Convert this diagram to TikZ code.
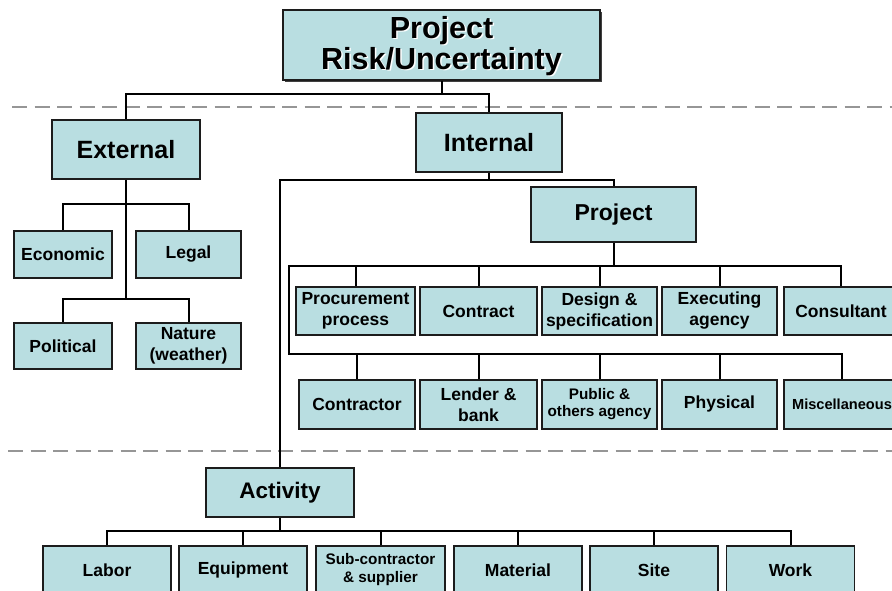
\documentclass[tikz,border=0pt]{standalone}
\usepackage{fontspec}
\setmainfont{Liberation Sans}
\usetikzlibrary{shadows,calc}

\definecolor{boxfill}{RGB}{185,222,225}
\definecolor{boxline}{RGB}{28,28,28}
\definecolor{sepgray}{RGB}{150,150,150}

\begin{document}
\begin{tikzpicture}[x=1pt, y=-1pt,
        riskbox/.style={draw=boxline, fill=boxfill, line width=1.9pt, align=center, inner sep=0pt},
        hugetext/.style={font=\bfseries\fontsize{30.5}{31}\selectfont, align=center},
        bigtext/.style={font=\bfseries\fontsize{25}{28}\selectfont},
        midtext/.style={font=\bfseries\fontsize{23}{26}\selectfont},
        rowtext/.style={font=\bfseries\fontsize{17.5}{21}\selectfont},
        smalltext/.style={font=\bfseries\fontsize{15.3}{17}\selectfont},
        link/.style={line width=2pt, black},
        sepline/.style={draw=sepgray, line width=1.6pt, dash pattern=on 15pt off 7.5pt}]

        \def\rowh{48.5pt}
        \def\wide{116pt}

        \useasboundingbox (0,0) rectangle (892,590);
        \clip (0,0) rectangle (892,590);

        \draw [sepline] (12,106.7) -- (892,106.7);
        \draw [sepline] (8,451) -- (892,451);

        % top level
        \node [riskbox, minimum width=317pt, minimum height=70pt,
               drop shadow={shadow xshift=1.5pt, shadow yshift=-1.5pt, fill=black!75, opacity=1}] (top) at (441.5,45) {};
        \node [hugetext, text=white] (topshade) at (443,47.5) {Project\\Risk/Uncertainty};
        \node [hugetext] (toptext) at ($(top.center)+(0,1)$) {Project\\Risk/Uncertainty};

        \node [riskbox, bigtext, minimum width=148pt, minimum height=59pt] (external) at (126,149.5) {External};
        \node [riskbox, bigtext, minimum width=146pt, minimum height=59pt] (internal) at (489,142.2) {Internal};

        % external
        \node [riskbox, rowtext, minimum width=98pt, minimum height=47pt] (economic) at (63,254.5) {Economic};
        \node [riskbox, rowtext, minimum width=105pt, minimum height=47pt] (legal) at (188.5,254.5) {Legal};
        \node [riskbox, rowtext, minimum width=98pt, minimum height=46pt] (political) at (63,346) {Political};
        \node [riskbox, rowtext, minimum width=105pt, minimum height=46pt, align=center] (nature) at (188.5,346) {Nature\\(weather)};

        % internal
        \node [riskbox, midtext, minimum width=165pt, minimum height=55pt] (project) at (613.5,214.4) {Project};

        \node [riskbox, rowtext, minimum width=119pt, minimum height=\rowh] (procurement) at (355.5,311) {Procurement\\process};
        \node [riskbox, rowtext, minimum width=117pt, minimum height=\rowh] (contract) at (478.5,311) {Contract};
        \node [riskbox, rowtext, minimum width=115pt, minimum height=\rowh] (design) at (599.5,311) {Design \&\\specification};
        \node [riskbox, rowtext, minimum width=115pt, minimum height=\rowh] (executing) at (719.5,311) {Executing\\agency};
        \node [riskbox, rowtext, minimum width=114pt, minimum height=\rowh] (consultant) at (841,311) {Consultant};

        \node [riskbox, rowtext, minimum width=\wide, minimum height=\rowh] (contractor) at (357,404.3) {Contractor};
        \node [riskbox, rowtext, minimum width=117pt, minimum height=\rowh] (lender) at (478.5,404.3) {Lender \&\\bank};
        \node [riskbox, smalltext, minimum width=115pt, minimum height=\rowh] (public) at (599.5,404.3) {Public \&\\others agency};
        \node [riskbox, rowtext, minimum width=115pt, minimum height=\rowh] (physical) at (719.5,404.3) {Physical};
        \node [riskbox, font=\bfseries\fontsize{14.6}{17}\selectfont, minimum width=116pt, minimum height=\rowh] (misc) at (842,404.3) {Miscellaneous};

        % activity
        \node [riskbox, font=\bfseries\fontsize{22.5}{25}\selectfont, minimum width=148pt, minimum height=\rowh] (activity) at (280,492.3) {Activity};

        \node [riskbox, rowtext, minimum width=128pt, minimum height=\rowh] (labor) at (107,570) {Labor};
        \node [riskbox, rowtext, minimum width=128pt, minimum height=\rowh] (equipment) at (243,570) {Equipment};
        \node [riskbox, font=\bfseries\fontsize{15.3}{18}\selectfont, minimum width=129pt, minimum height=\rowh] (subcon) at (380.5,570) {Sub-contractor\\\& supplier};
        \node [riskbox, rowtext, minimum width=128pt, minimum height=\rowh] (material) at (518,570) {Material};
        \node [riskbox, rowtext, minimum width=128pt, minimum height=\rowh] (site) at (654,570) {Site};
        \node [riskbox, rowtext, minimum width=128pt, minimum height=\rowh] (work) at (790.5,570) {Work};

        % connectors
        \coordinate (extA) at (126,204);
        \coordinate (extB) at (126,299);
        \coordinate (prjL) at (289,354.3);

        \draw [link] (top.south) -- ++(0,12.7) coordinate (topA);
        \draw [link] (external.north) |- (topA) -| (internal.north);

        \draw [link] (external.south) -- (extB);
        \draw [link] (economic.north) |- (extA) -| (legal.north);
        \draw [link] (political.north) |- (extB) -| (nature.north);

        \draw [link] (internal.south) -- ++(0,7.5) coordinate (intA);
        \draw [link] (activity.north) |- (intA) -| (project.north);

        \draw [link] (project.south) -- ++(0,23.6) coordinate (prjA);
        \draw [link] (procurement.north) |- (prjA) -| (consultant.north);
        \foreach \n in {contract, design, executing}
            \draw [link] (\n.north) -- (\n.north |- prjA);
        \draw [link] (procurement.north |- prjA) -| (prjL) -| (misc.north);
        \foreach \n in {contractor, lender, public, physical}
            \draw [link] (\n.north) -- (\n.north |- prjL);

        \draw [link] (activity.south) -- ++(0,13.3) coordinate (actA);
        \draw [link] (labor.north) |- (actA) -| (work.north);
        \foreach \n in {equipment, subcon, material, site}
            \draw [link] (\n.north) -- (\n.north |- actA);

    \end{tikzpicture}
\end{document}
